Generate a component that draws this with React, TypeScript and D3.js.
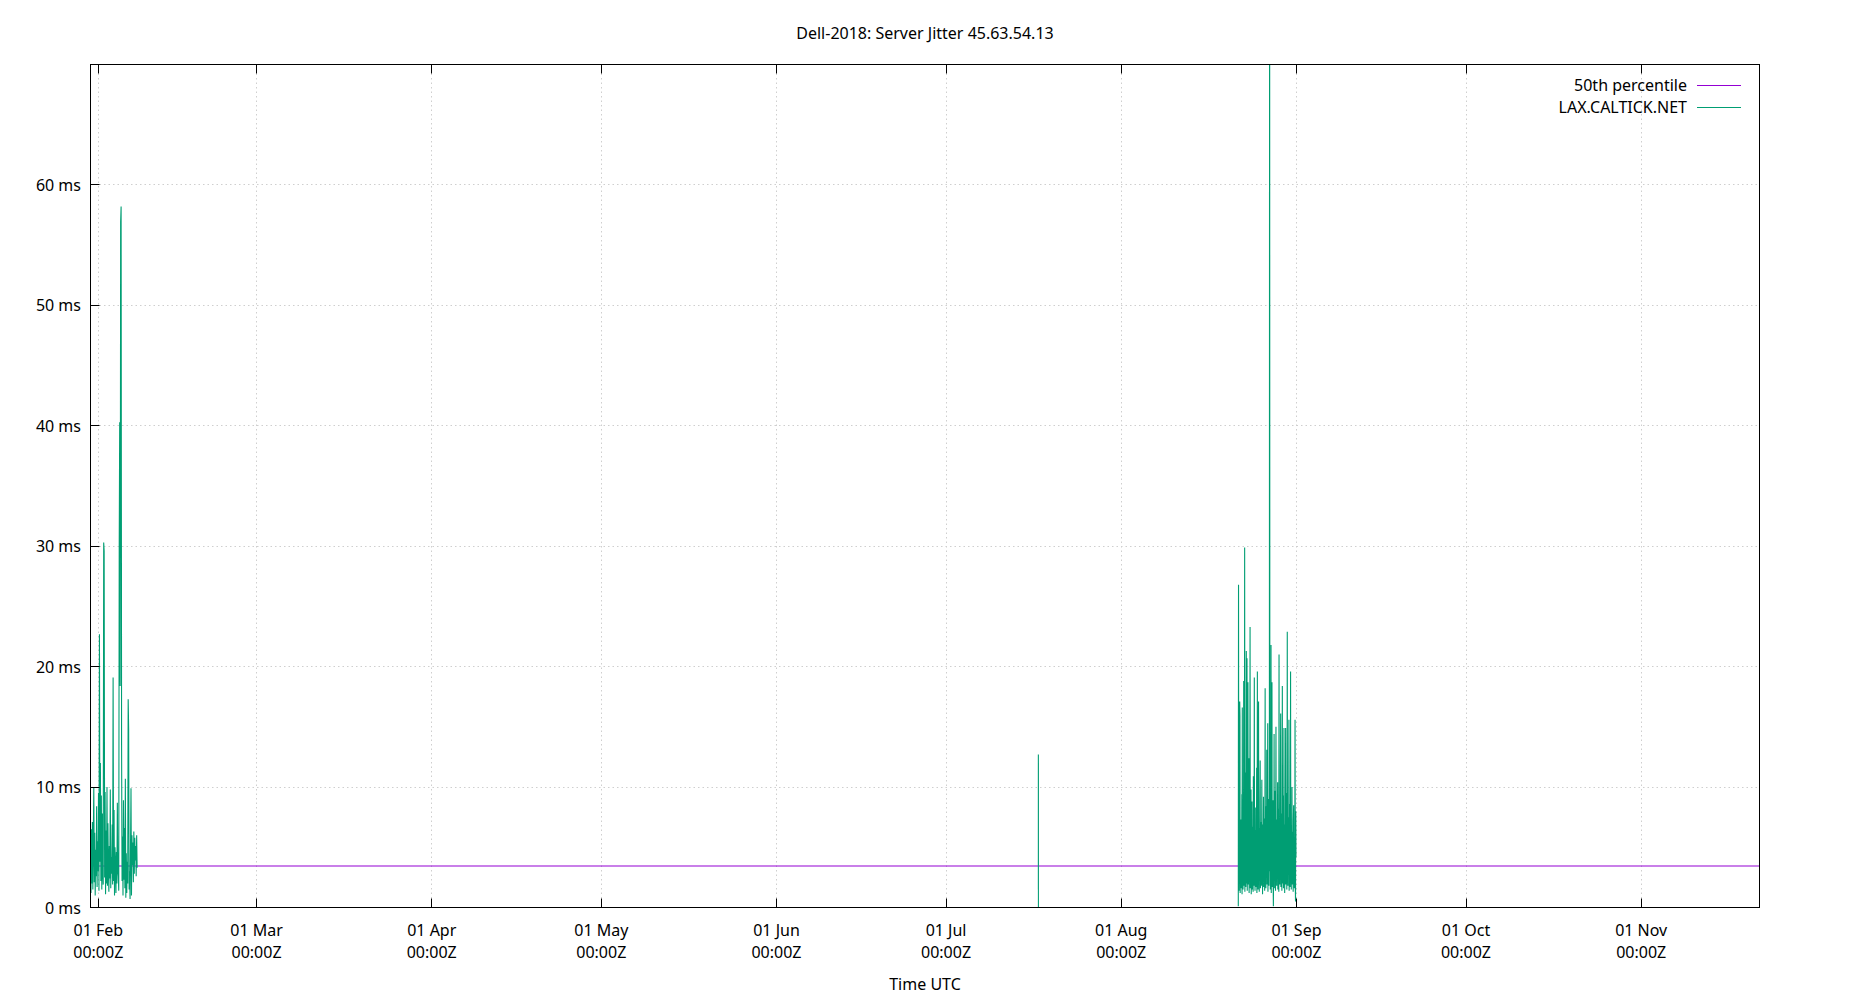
import React from "react";
import * as d3 from "d3";

const TITLE = "Dell-2018: Server Jitter 45.63.54.13";
const X_LABEL = "Time UTC";
const Y_TICKS = [0, 10, 20, 30, 40, 50, 60];
const MEDIAN_MS = 3.45;
const LEGEND = ["50th percentile", "LAX.CALTICK.NET"];

const X_START = Date.UTC(2018, 0, 30, 14, 50);
const X_END = Date.UTC(2018, 10, 21, 22, 20);

// Feb burst: 2-hour samples
const FEB_START = Date.UTC(2018, 0, 30, 14, 50);
const FEB_STEP_MIN = 120;
const FEB_VALUES = [
  3.4, 1.2, 6.5, 2.0, 7.1, 1.5, 5.8, 10.0, 2.1, 6.2,
  1.0, 4.8, 2.6, 8.4, 1.7, 5.5, 3.0, 9.5, 1.4, 22.7,
  3.8, 12.0, 2.2, 9.3, 1.5, 7.8, 3.0, 1.9, 30.3, 29.6,
  2.5, 9.6, 1.1, 6.4, 2.0, 10.0, 1.8, 7.0, 3.1, 1.3,
  5.1, 2.4, 9.8, 1.6, 4.2, 2.8, 6.9, 1.9, 19.1, 2.2,
  8.1, 1.0, 5.0, 3.5, 1.2, 4.6, 2.0, 8.7, 3.0, 2.6,
  1.4, 30.2, 40.3, 18.4, 56.9, 58.2, 13.5, 2.2, 5.9, 1.0,
  8.9, 2.3, 6.6, 1.6, 10.7, 0.8, 4.5, 1.2, 3.8, 2.0,
  17.3, 14.8, 1.5, 3.0, 0.7, 5.2, 9.9, 1.0, 6.0, 3.5,
  5.4, 2.1, 6.3, 2.8, 5.8, 3.9, 5.1, 2.6, 6.0, 3.3,
];

// July single spike: 10-minute samples
const JUL_START = Date.UTC(2018, 6, 17, 8, 0);
const JUL_STEP_MIN = 10;
const JUL_VALUES = [12.7, 0.0];

// Aug burst: hourly samples
const AUG_START = Date.UTC(2018, 7, 21, 17, 0);
const AUG_STEP_MIN = 60;
const AUG_VALUES = [
  0.1, 26.8, 3.2, 1.4, 5.6, 2.1, 17.1, 15.9, 1.2, 4.8,
  2.5, 7.3, 1.6, 5.1, 3.0, 9.4, 1.1, 16.6, 2.7, 6.2,
  1.5, 4.4, 2.2, 18.8, 1.8, 5.7, 3.3, 29.9, 1.3, 6.8,
  2.4, 11.2, 1.7, 4.9, 21.3, 2.0, 6.1, 20.7, 1.4, 5.3,
  3.1, 18.7, 1.9, 7.7, 2.6, 12.4, 1.2, 5.0, 3.4, 8.1,
  23.3, 1.6, 4.6, 2.3, 9.8, 1.1, 5.9, 2.8, 8.8, 1.5,
  4.3, 2.0, 6.7, 1.3, 10.9, 2.5, 5.2, 1.8, 19.1, 2.2,
  6.4, 1.4, 4.7, 3.0, 8.3, 1.7, 5.5, 2.4, 11.6, 1.2,
  4.1, 19.6, 2.1, 6.0, 1.5, 7.9, 17.1, 2.6, 4.5, 1.3,
  6.6, 2.9, 8.7, 12.2, 1.6, 5.4, 2.2, 7.1, 1.8, 4.8,
  10.6, 2.3, 5.8, 1.1, 6.9, 3.2, 4.0, 9.2, 1.7, 5.6,
  2.5, 7.4, 1.4, 4.9, 18.2, 2.0, 6.3, 1.6, 8.4, 3.1,
  5.0, 13.1, 1.9, 4.2, 2.7, 15.3, 1.3, 6.1, 2.4, 9.0,
  1.8, 5.7, 5.0, 95.0, 3.0, 7.6, 1.5, 4.4, 2.9, 21.8,
  1.2, 6.5, 2.6, 18.7, 1.7, 5.3, 3.3, 8.9, 2.1, 0.1,
  4.6, 2.4, 14.4, 1.6, 6.8, 2.9, 4.1, 9.7, 1.4, 5.5,
  15.0, 2.2, 6.0, 1.8, 7.3, 3.0, 4.7, 10.4, 1.5, 5.9,
  2.6, 8.2, 1.3, 21.0, 2.3, 6.4, 1.9, 4.9, 3.4, 11.8,
  16.1, 1.7, 5.2, 2.5, 7.8, 1.4, 6.2, 18.4, 2.0, 4.6,
  3.1, 9.3, 1.6, 5.7, 14.9, 2.4, 6.9, 1.2, 4.3, 2.8,
  8.0, 14.9, 1.9, 5.1, 2.7, 9.5, 1.5, 6.6, 22.9, 2.2,
  4.8, 1.8, 7.5, 3.0, 5.4, 15.6, 1.4, 6.1, 2.6, 8.6,
  1.7, 4.5, 19.6, 2.3, 6.7, 1.5, 5.0, 3.2, 10.0, 1.9,
  6.3, 2.5, 4.2, 1.3, 7.1, 8.5, 2.1, 5.8, 1.6, 4.9,
  3.0, 15.6, 1.8, 0.5, 8.0, 4.2,
];

const SEGMENTS = [
  { start: FEB_START, step: FEB_STEP_MIN, values: FEB_VALUES },
  { start: JUL_START, step: JUL_STEP_MIN, values: JUL_VALUES },
  { start: AUG_START, step: AUG_STEP_MIN, values: AUG_VALUES },
];

const W = 1850;
const H = 1000;
const L = 90.5;
const R = 1759.5;
const T = 64.5;
const B = 907.5;
const FONT = "'Noto Sans', 'Open Sans', sans-serif";
const FS = 16;
const PURPLE = "#9400d3";
const GREEN = "#009e73";

export default function App() {
  const x = d3.scaleUtc().domain([new Date(X_START), new Date(X_END)]).range([L, R]);
  const y = d3.scaleLinear().domain([0, 70]).range([B, T]);
  const xTicks = x.ticks(d3.utcMonth.every(1) as any);
  const fmtDay = d3.utcFormat("%d %b");
  const fmtTime = d3.utcFormat("%H:%MZ");
  const line = d3
    .line<{ t: number; v: number }>()
    .x((d) => x(new Date(d.t)))
    .y((d) => y(d.v));

  const paths = SEGMENTS.map((s) =>
    line(s.values.map((v, i) => ({ t: s.start + i * s.step * 60000, v })))
  );

  const snap = (v: number) => Math.round(v - 0.5) + 0.5;

  return (
    <svg
      width={W}
      height={H}
      style={{ position: "absolute", left: 0, top: 0, background: "#fff" }}
      fontFamily={FONT}
      fontSize={FS}
    >
      <defs>
        <clipPath id="plot">
          <rect x={L} y={T} width={R - L} height={B - T} />
        </clipPath>
      </defs>
      <rect x={0} y={0} width={W} height={H} fill="#fff" />
      {/* grid */}
      {Y_TICKS.filter((t) => t > 0).map((t) => (
        <line
          key={"gy" + t}
          x1={L}
          x2={R}
          y1={snap(y(t))}
          y2={snap(y(t))}
          stroke="#cfcfcf"
          strokeWidth={1}
          strokeDasharray="1.5,3"
        />
      ))}
      {xTicks.map((t) => (
        <line
          key={"gx" + +t}
          x1={snap(x(t))}
          x2={snap(x(t))}
          y1={T}
          y2={B}
          stroke="#cfcfcf"
          strokeWidth={1}
          strokeDasharray="1.5,3"
        />
      ))}
      {/* median */}
      <line x1={L} x2={R} y1={y(MEDIAN_MS)} y2={y(MEDIAN_MS)} stroke={PURPLE} strokeWidth={1.1} />
      {/* data */}
      <g clipPath="url(#plot)">
        {paths.map((d, i) => (
          <path key={i} d={d || ""} fill="none" stroke={GREEN} strokeWidth={1.1} />
        ))}
      </g>
      {/* border */}
      <rect x={L} y={T} width={R - L} height={B - T} fill="none" stroke="#000" strokeWidth={1} />
      {/* y ticks */}
      {Y_TICKS.map((t) => (
        <g key={"yt" + t}>
          <line x1={L} x2={L + 9} y1={snap(y(t))} y2={snap(y(t))} stroke="#000" />
          <text x={81} y={y(t)} textAnchor="end" dominantBaseline="central" fill="#000">
            {t} ms
          </text>
        </g>
      ))}
      {/* x ticks */}
      {xTicks.map((t) => (
        <g key={"xt" + +t}>
          <line x1={snap(x(t))} x2={snap(x(t))} y1={B} y2={B - 9} stroke="#000" />
          <line x1={snap(x(t))} x2={snap(x(t))} y1={T} y2={T + 9} stroke="#000" />
          <text x={x(t)} y={930} textAnchor="middle" dominantBaseline="central" fill="#000">
            {fmtDay(t)}
          </text>
          <text x={x(t)} y={951.5} textAnchor="middle" dominantBaseline="central" fill="#000">
            {fmtTime(t)}
          </text>
        </g>
      ))}
      {/* title and axis label */}
      <text x={925} y={33} textAnchor="middle" dominantBaseline="central" fill="#000">
        {TITLE}
      </text>
      <text x={925} y={984} textAnchor="middle" dominantBaseline="central" fill="#000">
        {X_LABEL}
      </text>
      {/* legend */}
      {LEGEND.map((lab, i) => (
        <g key={lab}>
          <text x={1687} y={85 + i * 22} textAnchor="end" dominantBaseline="central" fill="#000">
            {lab}
          </text>
          <line
            x1={1697}
            x2={1741}
            y1={85.5 + i * 22}
            y2={85.5 + i * 22}
            stroke={i === 0 ? PURPLE : GREEN}
            strokeWidth={1.1}
          />
        </g>
      ))}
    </svg>
  );
}
